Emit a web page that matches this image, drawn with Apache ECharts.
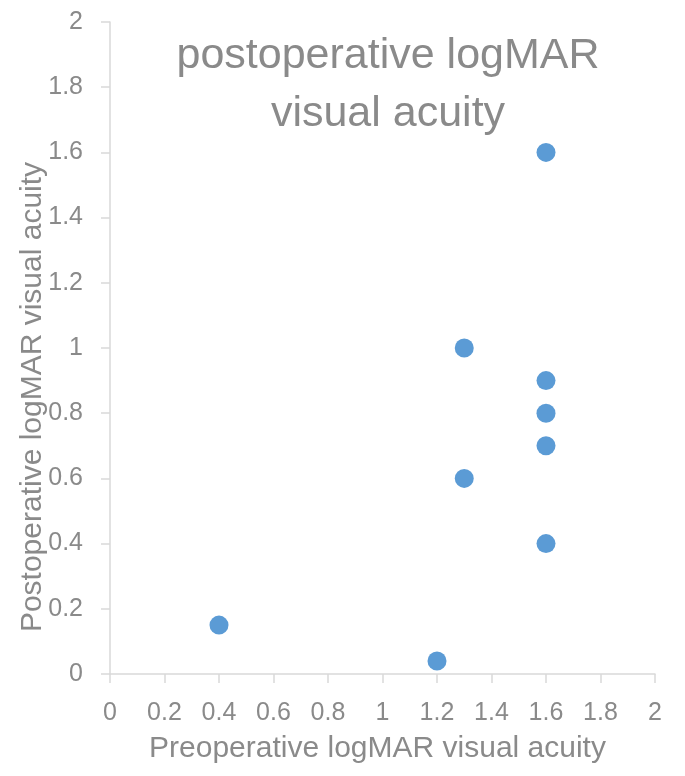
<!DOCTYPE html>
<html>
<head>
<meta charset="utf-8">
<script src="https://cdn.jsdelivr.net/npm/echarts@6/dist/echarts.min.js"></script>
<style>
html,body{margin:0;padding:0;background:#fff;}
#chart{width:685px;height:776px;}
</style>
</head>
<body>
<div id="chart"></div>
<script>
var titleText = 'postoperative logMAR\nvisual acuity';
var xAxisName = 'Preoperative logMAR visual acuity';
var yAxisName = 'Postoperative logMAR visual acuity';
var preopValues = [0.4, 1.2, 1.3, 1.3, 1.6, 1.6, 1.6, 1.6, 1.6];
var postopValues = [0.15, 0.04, 1.0, 0.6, 1.6, 0.9, 0.8, 0.7, 0.4];
var axisMin = 0, axisMax = 2, axisStep = 0.2;

var points = preopValues.map(function (x, i) { return [x, postopValues[i]]; });

var FONT = 'Liberation Sans';
var TXT = '#8a8a8a';
var LINE = '#d9d9d9';

var chart = echarts.init(document.getElementById('chart'), null, {renderer: 'canvas'});
chart.setOption({
  backgroundColor: '#ffffff',
  animation: false,
  title: {
    text: titleText,
    left: 383,
    textAlign: 'center',
    top: 22,
    textStyle: {fontFamily: FONT, fontSize: 43, fontWeight: 'normal', color: TXT, lineHeight: 58}
  },
  grid: {left: 110, right: 30, top: 22, bottom: 102, containLabel: false},
  xAxis: {
    type: 'value', min: axisMin, max: axisMax, interval: axisStep,
    name: xAxisName, nameLocation: 'middle', nameGap: 60,
    nameTextStyle: {fontFamily: FONT, fontSize: 30, color: TXT, padding: [0, 10, 0, 0]},
    axisLine: {show: true, lineStyle: {color: LINE, width: 1.5}},
    axisTick: {show: true, inside: false, length: 9, lineStyle: {color: LINE, width: 1.5}},
    axisLabel: {fontFamily: FONT, fontSize: 25, color: TXT, margin: 27},
    splitLine: {show: false}
  },
  yAxis: {
    type: 'value', min: axisMin, max: axisMax, interval: axisStep,
    axisLine: {show: true, lineStyle: {color: LINE, width: 1.5}},
    axisTick: {show: true, inside: false, length: 9, lineStyle: {color: LINE, width: 1.5}},
    axisLabel: {fontFamily: FONT, fontSize: 25, color: TXT, margin: 27},
    splitLine: {show: false}
  },
  graphic: [{
    type: 'text',
    x: 33, y: 397,
    rotation: Math.PI / 2,
    style: {text: yAxisName, fontFamily: FONT, fontSize: 30, fill: TXT, textAlign: 'center', textVerticalAlign: 'middle'}
  }],
  series: [{
    type: 'scatter',
    data: points,
    symbol: 'circle',
    symbolSize: 19,
    itemStyle: {color: '#5b9bd5', opacity: 1}
  }]
});
</script>
</body>
</html>
